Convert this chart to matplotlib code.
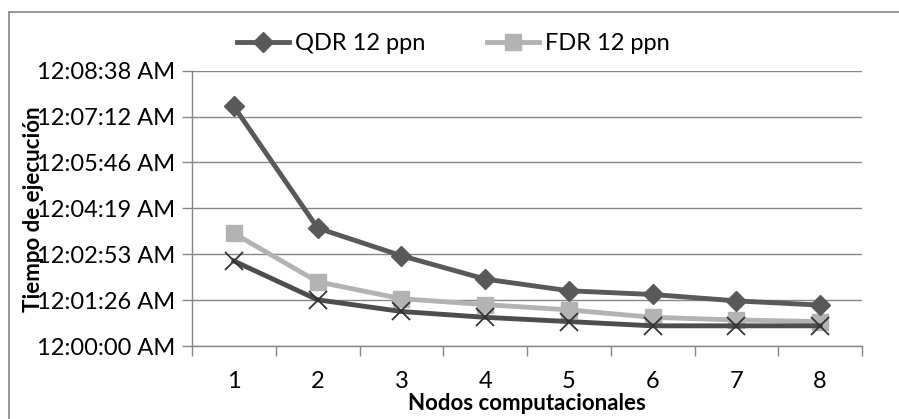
import matplotlib
matplotlib.use("Agg")
import matplotlib.pyplot as plt
from matplotlib.lines import Line2D
from matplotlib.ticker import FixedLocator, FuncFormatter

plt.rcParams['font.family'] = ['Lato', 'DejaVu Sans']

# execution time in seconds for 1..8 nodes
nodes = [1, 2, 3, 4, 5, 6, 7, 8]
qdr_12ppn = [451, 222, 170, 126, 104, 97, 85, 77]
fdr_12ppn = [212, 121, 89, 78, 68, 54, 49, 46]
third_series = [160, 87, 65, 54, 46, 38, 38, 38]
y_ticks = [0, 86.4, 172.8, 259.2, 345.6, 432.0, 518.4]


def fmt_time(v, pos):
    s = int(round(v))
    return "12:%02d:%02d AM" % (s // 60, s % 60)


fig = plt.figure(figsize=(8.99, 4.19), dpi=100)
ax = fig.add_axes([0.2136, 0.1742, 0.7453, 0.6571])

ax.plot(nodes, qdr_12ppn, color='#595959', lw=3.5, marker='D', ms=10,
        label='QDR 12 ppn', zorder=3)
ax.plot(nodes, fdr_12ppn, color='#b3b3b3', lw=3.5, marker='s', ms=12,
        label='FDR 12 ppn', zorder=2)
ax.plot(nodes, third_series, color='#4d4d4d', lw=3.5, marker='x', ms=13,
        mew=1.3, mec='#333333', zorder=4)

ax.set_xlim(0.5, 8.5)
ax.set_ylim(0, 518.4)
ax.yaxis.set_major_locator(FixedLocator(y_ticks))
ax.yaxis.set_major_formatter(FuncFormatter(fmt_time))
ax.set_xticks(nodes)
ax.set_xticks([n - 0.5 for n in nodes] + [8.5], minor=True)
ax.tick_params(axis='x', which='major', length=0, labelsize=17, pad=18)
ax.tick_params(axis='x', which='minor', length=7, color='#868686', width=1)
ax.tick_params(axis='y', length=7, color='#868686', width=1, labelsize=17, pad=5)

ax.grid(axis='y', color='#868686', lw=1)
ax.set_axisbelow(True)
for s in ['top', 'right']:
    ax.spines[s].set_visible(False)
for s in ['left', 'bottom']:
    ax.spines[s].set_color('#868686')
    ax.spines[s].set_linewidth(1)

ax.set_xlabel('Nodos computacionales', fontsize=16, fontweight='bold', labelpad=1)
fig.text(0.037, 0.50, 'Tiempo de ejecución', rotation=90, fontsize=16,
         fontweight='bold', ha='center', va='center')

ax.legend(loc='center', bbox_to_anchor=(0.39, 1.097), ncol=2, frameon=False,
          fontsize=17, handlelength=2.2, columnspacing=2.6, handletextpad=0.25,
          borderpad=0)

# outer chart frame (top and left edges visible)
fig.add_artist(Line2D([0.01, 1.0], [0.971, 0.971], color='#868686', lw=1.2))
fig.add_artist(Line2D([0.01, 0.01], [0.0, 0.971], color='#868686', lw=1.2))

fig.savefig('out.png', dpi=100)
